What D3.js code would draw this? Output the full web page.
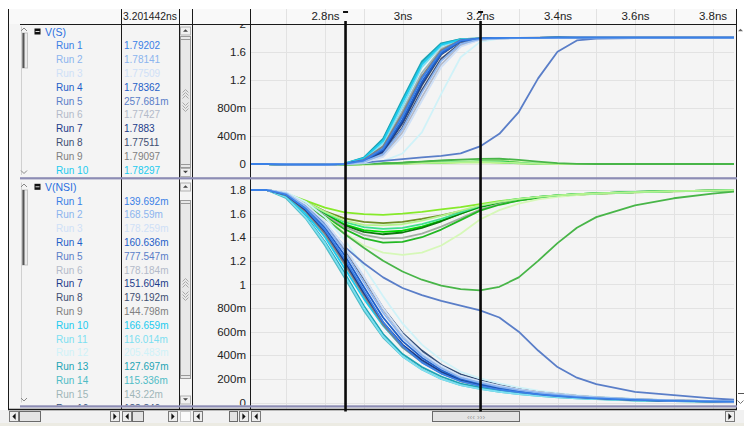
<!DOCTYPE html>
<html><head><meta charset="utf-8">
<script src="https://cdn.jsdelivr.net/npm/d3@7"></script>
<style>
html,body{margin:0;padding:0;background:#fff;}
svg{display:block;font-family:"Liberation Sans",Arial,sans-serif;}
</style></head><body>
<svg id="c" width="744" height="426"></svg>
<script>
// ---------------- DATA ----------------
const timeNs = [2.6,2.65,2.7,2.75,2.8,2.85,2.9,2.95,3.0,3.05,3.1,3.15,3.2,3.25,3.3,3.35,3.4,3.45,3.5,3.6,3.7,3.8,3.87];
const runNames = ["Run 1","Run 2","Run 3","Run 4","Run 5","Run 6","Run 7","Run 8","Run 9","Run 10","Run 11","Run 12","Run 13","Run 14","Run 15","Run 16"];
const signalNames = ["V(S)","V(NSI)"];

// V(S), runs 1..16
const vsRuns = [
[0,0,-0.006,-0.008,-0.008,0.002,0.05,0.22,0.68,1.22,1.6,1.76,1.79,1.795,1.797,1.798,1.799,1.8,1.8,1.8,1.8,1.8,1.8],
[0,0,-0.006,-0.008,-0.008,0,0.03,0.14,0.5,1.02,1.47,1.71,1.78,1.79,1.795,1.797,1.798,1.799,1.8,1.8,1.8,1.8,1.8],
[0,0,-0.006,-0.008,-0.008,0,0.02,0.1,0.4,0.9,1.38,1.67,1.773,1.788,1.794,1.797,1.798,1.799,1.8,1.8,1.8,1.8,1.8],
[0,0,-0.006,-0.008,-0.008,0.002,0.045,0.2,0.63,1.17,1.57,1.75,1.782,1.792,1.796,1.798,1.799,1.8,1.8,1.8,1.8,1.8,1.8],
[0,0,-0.006,-0.008,-0.008,0,0.02,0.045,0.07,0.095,0.115,0.15,0.25,0.43,0.74,1.22,1.6,1.76,1.785,1.795,1.798,1.8,1.8],
[0,0,-0.006,-0.008,-0.008,0,0.025,0.12,0.45,0.95,1.42,1.69,1.772,1.788,1.794,1.797,1.798,1.799,1.8,1.8,1.8,1.8,1.8],
[0,0,-0.006,-0.008,-0.008,0.002,0.045,0.18,0.6,1.15,1.58,1.755,1.786,1.794,1.797,1.798,1.799,1.8,1.8,1.8,1.8,1.8,1.8],
[0,0,-0.006,-0.008,-0.008,0,0.035,0.15,0.52,1.05,1.5,1.72,1.773,1.789,1.795,1.797,1.798,1.799,1.8,1.8,1.8,1.8,1.8],
[0,0,-0.006,-0.008,-0.008,0.003,0.06,0.25,0.72,1.25,1.62,1.765,1.79,1.796,1.798,1.799,1.8,1.8,1.8,1.8,1.8,1.8,1.8],
[0,0,-0.006,-0.008,-0.008,0.005,0.08,0.33,0.88,1.42,1.7,1.772,1.782,1.792,1.796,1.798,1.799,1.8,1.8,1.8,1.8,1.8,1.8],
[0,0,-0.006,-0.008,-0.008,0.004,0.07,0.3,0.82,1.38,1.68,1.77,1.786,1.793,1.796,1.798,1.799,1.8,1.8,1.8,1.8,1.8,1.8],
[0,0,-0.006,-0.008,-0.008,0,0.01,0.04,0.15,0.45,1.0,1.52,1.74,1.785,1.795,1.797,1.798,1.799,1.8,1.8,1.8,1.8,1.8],
[0,0,-0.006,-0.008,-0.008,0.006,0.09,0.36,0.92,1.46,1.72,1.78,1.79,1.795,1.797,1.798,1.799,1.8,1.8,1.8,1.8,1.8,1.8],
[0,0,-0.006,-0.008,-0.008,0.005,0.085,0.35,0.9,1.44,1.71,1.778,1.789,1.794,1.797,1.798,1.799,1.8,1.8,1.8,1.8,1.8,1.8],
[0,0,-0.006,-0.008,-0.008,0.004,0.06,0.26,0.76,1.3,1.64,1.765,1.788,1.794,1.797,1.798,1.799,1.8,1.8,1.8,1.8,1.8,1.8],
[0,0,-0.006,-0.008,-0.008,0.002,0.04,0.17,0.58,1.12,1.56,1.75,1.785,1.793,1.796,1.798,1.799,1.8,1.8,1.8,1.8,1.8,1.8]
];
// V(NSI), runs 1..16
const vnsiRuns = [
[1.8,1.8,1.76,1.64,1.46,1.22,0.95,0.68,0.48,0.34,0.245,0.18,0.14,0.11,0.087,0.069,0.055,0.044,0.035,0.022,0.014,0.009,0.007],
[1.8,1.8,1.77,1.66,1.5,1.28,1.02,0.76,0.55,0.4,0.29,0.21,0.168,0.133,0.105,0.083,0.066,0.052,0.041,0.026,0.016,0.01,0.008],
[1.8,1.8,1.775,1.68,1.53,1.32,1.07,0.8,0.58,0.42,0.31,0.225,0.178,0.141,0.111,0.088,0.07,0.055,0.044,0.027,0.017,0.011,0.008],
[1.8,1.8,1.765,1.65,1.48,1.25,0.98,0.72,0.52,0.38,0.275,0.2,0.16,0.126,0.099,0.078,0.062,0.049,0.039,0.024,0.015,0.01,0.007],
[1.8,1.8,1.77,1.67,1.52,1.32,1.18,1.06,0.97,0.91,0.86,0.82,0.78,0.72,0.6,0.44,0.3,0.21,0.155,0.09,0.062,0.035,0.02],
[1.8,1.8,1.772,1.675,1.52,1.31,1.06,0.79,0.575,0.42,0.305,0.225,0.178,0.14,0.11,0.087,0.069,0.055,0.044,0.027,0.017,0.011,0.008],
[1.8,1.8,1.76,1.63,1.45,1.2,0.93,0.68,0.49,0.36,0.26,0.19,0.152,0.12,0.094,0.074,0.059,0.047,0.037,0.023,0.015,0.01,0.007],
[1.8,1.8,1.77,1.67,1.51,1.3,1.05,0.79,0.58,0.425,0.31,0.228,0.179,0.141,0.111,0.088,0.07,0.055,0.044,0.027,0.017,0.011,0.008],
[1.8,1.8,1.755,1.62,1.43,1.18,0.91,0.66,0.47,0.345,0.25,0.182,0.145,0.114,0.09,0.071,0.056,0.045,0.036,0.022,0.014,0.009,0.007],
[1.8,1.8,1.75,1.6,1.4,1.14,0.88,0.65,0.47,0.35,0.26,0.2,0.166,0.131,0.103,0.082,0.065,0.051,0.041,0.025,0.016,0.01,0.008],
[1.8,1.8,1.74,1.57,1.35,1.08,0.8,0.56,0.39,0.28,0.2,0.148,0.116,0.091,0.072,0.057,0.045,0.036,0.029,0.018,0.011,0.007,0.005],
[1.8,1.8,1.78,1.7,1.57,1.38,1.15,0.9,0.67,0.49,0.36,0.26,0.205,0.162,0.127,0.1,0.079,0.062,0.05,0.031,0.019,0.012,0.009],
[1.8,1.8,1.74,1.58,1.36,1.1,0.82,0.58,0.41,0.3,0.22,0.16,0.128,0.1,0.079,0.062,0.049,0.039,0.031,0.019,0.012,0.008,0.006],
[1.8,1.8,1.73,1.56,1.33,1.06,0.78,0.55,0.39,0.28,0.2,0.147,0.115,0.09,0.071,0.056,0.044,0.035,0.028,0.017,0.011,0.007,0.005],
[1.8,1.8,1.755,1.62,1.42,1.17,0.9,0.655,0.465,0.34,0.248,0.18,0.143,0.113,0.089,0.07,0.056,0.044,0.035,0.022,0.014,0.009,0.007],
[1.8,1.8,1.77,1.67,1.52,1.31,1.06,0.8,0.59,0.44,0.32,0.238,0.189,0.149,0.117,0.093,0.074,0.058,0.046,0.029,0.018,0.012,0.008]
];
// further runs (green family)
const vsRunsB = [
[0,0,-0.006,-0.008,-0.008,-0.006,-0.004,0,0.006,0.012,0.018,0.024,0.026,0.02,0.01,0.003,0,0,0,0,0,0,0],
[0,0,-0.006,-0.008,-0.008,-0.006,-0.003,0.002,0.01,0.02,0.03,0.038,0.04,0.032,0.016,0.005,0,0,0,0,0,0,0],
[0,0,-0.006,-0.008,-0.008,-0.006,-0.002,0.004,0.014,0.026,0.038,0.048,0.05,0.04,0.02,0.006,0,0,0,0,0,0,0],
[0,0,-0.006,-0.008,-0.008,-0.006,-0.002,0.004,0.015,0.028,0.041,0.052,0.055,0.045,0.022,0.007,0,0,0,0,0,0,0],
[0,0,-0.006,-0.008,-0.008,-0.006,-0.003,0.003,0.012,0.023,0.034,0.043,0.045,0.036,0.018,0.005,0,0,0,0,0,0,0],
[0,0,-0.006,-0.008,-0.008,-0.006,-0.002,0.005,0.016,0.03,0.044,0.056,0.06,0.05,0.026,0.008,0,0,0,0,0,0,0],
[0,0,-0.006,-0.008,-0.008,-0.006,-0.003,0.002,0.01,0.022,0.036,0.05,0.062,0.065,0.045,0.018,0.004,0,0,0,0,0,0],
[0,0,-0.006,-0.008,-0.008,-0.006,-0.003,0.001,0.008,0.016,0.024,0.031,0.034,0.027,0.013,0.004,0,0,0,0,0,0,0],
[0,0,-0.006,-0.008,-0.008,-0.006,-0.004,0,0.007,0.014,0.021,0.027,0.03,0.024,0.012,0.003,0,0,0,0,0,0,0],
[0,0,-0.006,-0.008,-0.008,-0.006,-0.002,0.005,0.018,0.035,0.05,0.062,0.072,0.075,0.06,0.035,0.012,0.003,0,0,0,0,0]
];
const vnsiRunsB = [
[1.8,1.8,1.77,1.71,1.65,1.61,1.595,1.59,1.6,1.615,1.635,1.655,1.68,1.705,1.725,1.74,1.752,1.762,1.77,1.782,1.79,1.795,1.798],
[1.8,1.8,1.768,1.7,1.62,1.56,1.53,1.52,1.53,1.555,1.585,1.62,1.66,1.69,1.715,1.733,1.748,1.76,1.768,1.78,1.788,1.794,1.798],
[1.8,1.8,1.765,1.69,1.6,1.51,1.46,1.445,1.455,1.49,1.54,1.6,1.655,1.69,1.72,1.74,1.755,1.765,1.772,1.783,1.79,1.795,1.8],
[1.8,1.8,1.765,1.69,1.59,1.5,1.445,1.425,1.44,1.48,1.535,1.6,1.66,1.695,1.722,1.741,1.755,1.765,1.772,1.783,1.79,1.795,1.8],
[1.8,1.8,1.762,1.685,1.585,1.49,1.42,1.39,1.395,1.43,1.49,1.56,1.635,1.68,1.712,1.735,1.75,1.762,1.77,1.782,1.79,1.795,1.799],
[1.8,1.8,1.762,1.68,1.575,1.47,1.39,1.355,1.36,1.4,1.465,1.545,1.625,1.675,1.71,1.733,1.75,1.762,1.77,1.782,1.79,1.795,1.799],
[1.8,1.8,1.76,1.675,1.57,1.44,1.33,1.27,1.25,1.27,1.33,1.43,1.55,1.63,1.685,1.72,1.742,1.757,1.767,1.78,1.789,1.794,1.798],
[1.8,1.8,1.766,1.695,1.61,1.53,1.485,1.47,1.48,1.51,1.555,1.61,1.665,1.7,1.725,1.742,1.755,1.765,1.772,1.783,1.79,1.795,1.8],
[1.8,1.8,1.767,1.7,1.615,1.54,1.505,1.5,1.51,1.54,1.58,1.625,1.67,1.7,1.724,1.741,1.754,1.764,1.771,1.782,1.79,1.795,1.8],
[1.8,1.8,1.76,1.67,1.56,1.43,1.31,1.2,1.11,1.04,0.99,0.96,0.95,0.98,1.06,1.2,1.35,1.48,1.57,1.67,1.73,1.77,1.79]
];

const cursorTimes = [2.853, 3.201442];
const cursorLabel = "3.201442ns";
const vsCursorVals = ["1.79202","1.78141","1.77509","1.78362","257.681m","1.77427","1.7883","1.77511","1.79097","1.78297"];
const vnsiCursorVals = ["139.692m","168.59m","178.259m","160.636m","777.547m","178.184m","151.604m","179.192m","144.798m","166.659m","116.014m","205.483m","127.697m","115.336m","143.22m","188.846m"];

const xTickVals = [2.8,3.0,3.2,3.4,3.6,3.8];
const xTickLabels = ["2.8ns","3ns","3.2ns","3.4ns","3.6ns","3.8ns"];
const xGridVals = [2.7,2.8,2.9,3.0,3.1,3.2,3.3,3.4,3.5,3.6,3.7,3.8];
const topTickVals = [0,0.4,0.8,1.2,1.6,2];
const topTickLabels = ["0","400m","800m","1.2","1.6","2"];
const botTickVals = [0,0.2,0.4,0.6,0.8,1.0,1.2,1.4,1.6,1.8];
const botTickLabels = ["0","200m","400m","600m","800m","1","1.2","1.4","1.6","1.8"];

// ---------------- STYLE ----------------
const runColors = ["#3a80e6","#8cb4ee","#cfe0f7","#1f5fc8","#5a7ec8","#b3bac9","#1c3c8a","#3e4f72","#7f8080","#1ccbef","#7ddff1","#d0f2f8","#1ea4b4","#4fbcc6","#9fb6b8","#34507a"];
const runColorsB = ["#86ea2a","#6f8f25","#00dc00","#0a7a0a","#a3afa3","#22b822","#d6f8b8","#40e090","#b6f28e","#48b548"];

// ---------------- DRAW ----------------
const svg = d3.select("#c");
const PX0 = 250, PX1 = 734;
const x = d3.scaleLinear().domain([2.6,3.8]).range([247.5,712.5]);
const yTop = d3.scaleLinear().domain([0,2]).range([164,23.6]);
const yBot = d3.scaleLinear().domain([0,1.8]).range([402.5,190]);

const defs = svg.append("defs");
function clip(id,x0,y0,w,h){defs.append("clipPath").attr("id",id).append("rect").attr("x",x0).attr("y",y0).attr("width",w).attr("height",h);}
clip("cTop",PX0,24.5,PX1-PX0,152.5);
clip("cBot",PX0,179.5,PX1-PX0,226);
clip("cTopAx",192,24.5,58,152.5);
clip("cBotAx",192,179.5,58,226);
clip("cTopList",9,24.5,170,152.5);
clip("cBotList",9,179.5,170,226);

svg.append("rect").attr("width",744).attr("height",426).attr("fill","#fff");
svg.append("rect").attr("x",8).attr("y",9).attr("width",728).attr("height",400).attr("fill","#f4f4f4");
svg.append("rect").attr("x",8).attr("y",9).attr("width",728).attr("height",15).attr("fill","#f9f9f9");
svg.append("rect").attr("x",0).attr("y",410).attr("width",744).attr("height",13).attr("fill","#f1f1f1");
svg.append("rect").attr("x",0).attr("y",423).attr("width",744).attr("height",3).attr("fill","#ecebe3");

// grid
const grid = svg.append("g").attr("stroke","#e2e2e2").attr("stroke-width",1);
grid.selectAll("line.v").data(xGridVals).join("line")
  .attr("x1",d=>Math.round(x(d))+0.5).attr("x2",d=>Math.round(x(d))+0.5)
  .attr("y1",9).attr("y2",409);
grid.selectAll("line.ht").data(topTickVals.filter(d=>d<2)).join("line")
  .attr("x1",PX0).attr("x2",PX1).attr("y1",d=>Math.round(yTop(d))+0.5).attr("y2",d=>Math.round(yTop(d))+0.5);
grid.selectAll("line.hb").data(botTickVals).join("line")
  .attr("x1",PX0).attr("x2",PX1).attr("y1",d=>Math.round(yBot(d))+0.5).attr("y2",d=>Math.round(yBot(d))+0.5);

// traces
function drawTraces(clipId, yScale, setA, setB){
  const g = svg.append("g").attr("clip-path",`url(#${clipId})`).attr("fill","none")
    .attr("stroke-width",1.8).attr("stroke-linejoin","round");
  const line = d3.line().x((d,i)=>x(timeNs[i])).y(d=>yScale(d));
  setB.forEach((s,i)=>g.append("path").attr("d",line(s)).attr("stroke",runColorsB[i]));
  for(let i=setA.length-1;i>=0;i--) g.append("path").attr("d",line(setA[i])).attr("stroke",runColors[i]);
}
drawTraces("cTop", yTop, vsRuns, vsRunsB);
drawTraces("cBot", yBot, vnsiRuns, vnsiRunsB);

// axes
const axFont = 11.5;
const gxa = svg.append("g").attr("transform","translate(0,24)")
  .call(d3.axisTop(x).tickValues(xTickVals).tickFormat((d,i)=>xTickLabels[i]).tickSize(0).tickPadding(4));
const gyt = svg.append("g").attr("clip-path","url(#cTopAx)").append("g").attr("transform",`translate(${PX0},0)`)
  .call(d3.axisLeft(yTop).tickValues(topTickVals).tickFormat((d,i)=>topTickLabels[i]).tickSize(0).tickPadding(4));
const gyb = svg.append("g").attr("clip-path","url(#cBotAx)").append("g").attr("transform",`translate(${PX0},0)`)
  .call(d3.axisLeft(yBot).tickValues(botTickVals).tickFormat((d,i)=>botTickLabels[i]).tickSize(0).tickPadding(4));
[gxa,gyt,gyb].forEach(g=>{g.select(".domain").remove();
  g.selectAll("text").attr("font-size",axFont).attr("fill","#222").attr("font-family","Liberation Sans, Arial, sans-serif");});

// signal lists
function drawList(clipId, sigName, yName, vals, n){
  const g = svg.append("g").attr("clip-path",`url(#${clipId})`).attr("font-size",10);
  g.append("rect").attr("x",34.5).attr("y",yName-3.5).attr("width",6).attr("height",6).attr("fill","#111");
  g.append("line").attr("x1",35.5).attr("x2",39.5).attr("y1",yName-0.5).attr("y2",yName-0.5).attr("stroke","#ddd");
  g.append("text").attr("x",45).attr("y",yName+3.8).attr("fill","#2a6fe0").attr("font-size",10.5).text(sigName);
  for(let i=0;i<n;i++){
    const yy = yName + 13.7 + i*13.8;
    g.append("text").attr("x",56).attr("y",yy+3.6).attr("fill",runColors[i]).text(runNames[i]);
    g.append("text").attr("x",124).attr("y",yy+3.6).attr("fill",runColors[i]).text(vals[i]);
  }
}
drawList("cTopList", signalNames[0], 32, vsCursorVals, vsCursorVals.length);
drawList("cBotList", signalNames[1], 187.3, vnsiCursorVals, vnsiCursorVals.length);

svg.append("text").attr("x",150).attr("y",20).attr("text-anchor","middle").attr("font-size",10.3).attr("fill","#222").text(cursorLabel);

// helpers
function tri(cx,cy,dir,s,fill){
  let p;
  if(dir==="u") p=`M${cx-s},${cy+s/2}L${cx+s},${cy+s/2}L${cx},${cy-s/2}Z`;
  if(dir==="d") p=`M${cx-s},${cy-s/2}L${cx+s},${cy-s/2}L${cx},${cy+s/2}Z`;
  if(dir==="l") p=`M${cx+s/2},${cy-s}L${cx+s/2},${cy+s}L${cx-s/2},${cy}Z`;
  if(dir==="r") p=`M${cx-s/2},${cy-s}L${cx-s/2},${cy+s}L${cx+s/2},${cy}Z`;
  svg.append("path").attr("d",p).attr("fill",fill||"#222");
}
function box(x0,y0,w,h,fill,stroke){
  svg.append("rect").attr("x",x0+0.5).attr("y",y0+0.5).attr("width",w-1).attr("height",h-1)
    .attr("fill",fill||"#ececec").attr("stroke",stroke||"#8a8a8a");
}
function chev(cx,cy,up,col){
  const d = up? `M${cx-3},${cy+1.5}L${cx},${cy-1.5}L${cx+3},${cy+1.5}` : `M${cx-3},${cy-1.5}L${cx},${cy+1.5}L${cx+3},${cy-1.5}`;
  svg.append("path").attr("d",d).attr("fill","none").attr("stroke",col||"#aaa").attr("stroke-width",1);
}

// vertical scroll column (179-192)
function vscroll(yUp, yT0, yT1, yGrip, yDown){
  box(180,yUp-4,11,9,"#f0f0f0","#b0b0b0"); tri(185.5,yUp,"u",2.5,"#444");
  box(180,yT0,11,yT1-yT0,"#e8e8e8","#9a9a9a");
  svg.append("line").attr("x1",181).attr("x2",190).attr("y1",yT0+3.5).attr("y2",yT0+3.5).attr("stroke","#999");
  svg.append("line").attr("x1",181).attr("x2",190).attr("y1",yT1-3.5).attr("y2",yT1-3.5).attr("stroke","#999");
  for(let k=0;k<3;k++){chev(185.5,yGrip-10+k*3,true); chev(185.5,yGrip+3+k*3,false);}
  box(180,yDown-4,11,9,"#f0f0f0","#b0b0b0"); tri(185.5,yDown,"d",2.5,"#444");
}
vscroll(30.5, 36, 168, 101, 172);
vscroll(186.5, 200, 379, 290, 399.5);

// tree scrollbars at left
function treeScroll(yA, yB, t0, t1){
  svg.append("line").attr("x1",21.5).attr("x2",21.5).attr("y1",yA-3).attr("y2",yB+3).attr("stroke","#d0d0d0");
  chev(24,yA,true,"#888"); chev(24,yB,false,"#888");
  svg.append("rect").attr("x",22.5).attr("y",t0).attr("width",5).attr("height",t1-t0).attr("fill","#eaeaea").attr("stroke","#c4c4c4");
  svg.append("line").attr("x1",23.5).attr("x2",23.5).attr("y1",t0).attr("y2",t1).attr("stroke","#555").attr("stroke-width",2);
}
treeScroll(29.5, 172, 33, 68);
treeScroll(185.5, 399.5, 190, 265);

// horizontal scroll row
function hscroll(x0,x1,t0,t1,grip){
  box(x0,411,10,11,"#ededed","#7a7a7a"); tri(x0+5,416.5,"l",3.2,"#111");
  box(x1-10,411,10,11,"#ededed","#7a7a7a"); tri(x1-5,416.5,"r",3.2,"#111");
  if(t1>t0){ box(t0,411,t1-t0,11,"#e4e4e4","#6a6a6a");
    if(grip) svg.append("text").attr("x",(t0+t1)/2).attr("y",419.5).attr("text-anchor","middle")
      .attr("font-size",8).attr("fill","#999").text("‹‹‹ ›››"); }
}
hscroll(9,120,19,41,false);
hscroll(122,178,132,144,false);
box(180,411,11,11,"#fafafa","#c8c8c8");
hscroll(193,249,229,238,false);
hscroll(251,735,432,520,true);

// right edge scrollbar hints
tri(740.5,30,"u",2.5,"#666");
svg.append("line").attr("x1",738).attr("x2",744).attr("y1",393.5).attr("y2",393.5).attr("stroke","#555");
chev(740.5,402,false,"#777");

// structural lines
const L = svg.append("g").attr("stroke","#1a1a1a").attr("stroke-width",1);
[8,121,179,192,250,736].forEach(xx=>L.append("line").attr("x1",xx+0.5).attr("x2",xx+0.5).attr("y1",9).attr("y2",409.5));
L.append("line").attr("x1",20).attr("x2",737).attr("y1",24.5).attr("y2",24.5);
L.append("line").attr("x1",8).attr("x2",737).attr("y1",409.5).attr("y2",409.5).attr("stroke-width",1.6);
svg.append("rect").attr("x",20).attr("y",177.2).attr("width",717).attr("height",2.2).attr("fill","#8c8cb4");
svg.append("rect").attr("x",20).attr("y",405.3).attr("width",717).attr("height",2.2).attr("fill","#8c8cb4");

// cursors
cursorTimes.forEach(t=>{
  const cx = x(t);
  svg.append("rect").attr("x",cx-2.5).attr("y",11).attr("width",5).attr("height",2).attr("fill","#111");
  svg.append("line").attr("x1",cx).attr("x2",cx).attr("y1",21).attr("y2",411.5)
    .attr("stroke","#0a0a0a").attr("stroke-width",2.6);
});
</script>
</body></html>
